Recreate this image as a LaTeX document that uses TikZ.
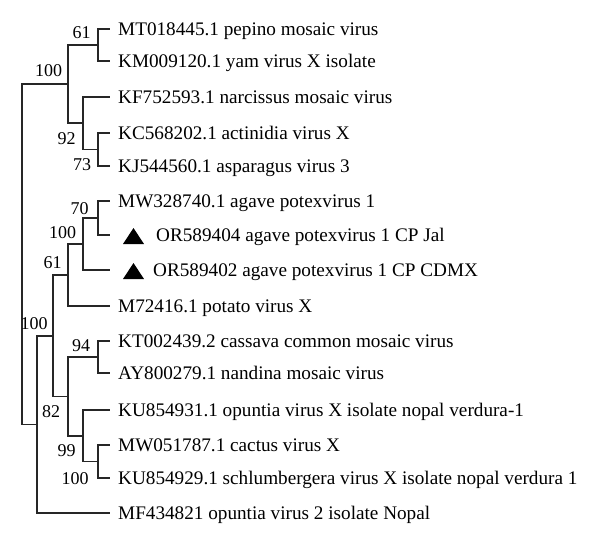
\documentclass[tikz,border=0pt]{standalone}
\usepackage{fontspec}
\setmainfont{Liberation Serif}
\begin{document}
\begin{tikzpicture}[x=1pt,y=-1pt,
  br/.style={line width=1.1pt,black!85},
  leaf/.style={anchor=base west,inner sep=0pt,font=\fontsize{19.2}{19}\selectfont},
  bs/.style={anchor=center,inner sep=0pt,font=\fontsize{18}{18}\selectfont},
  tri/.style={fill=black,draw=none}]
\useasboundingbox (0,0) rectangle (600,546);
% leaf tips
\foreach \n/\y in {1/29,2/61,3/97,4/133,5/166,6/201,7/235,8/270,9/306,10/341,11/373,12/410,13/445,14/478,15/513}
  \coordinate (L\n) at (110,\y);
% internal nodes
\coordinate (A) at (98,45);
\coordinate (B) at (98,149.5);
\coordinate (C) at (83,123);
\coordinate (D) at (68,84);
\coordinate (E) at (98,218);
\coordinate (F) at (83,244);
\coordinate (G) at (68,275);
\coordinate (H) at (98,357);
\coordinate (I) at (98,461.5);
\coordinate (J) at (83,436);
\coordinate (K) at (68,396.5);
\coordinate (Lx) at (53,336);
\coordinate (M) at (37,424.5);
\coordinate (R) at (22,254);
% branches
\draw[br] (A) |- (L1); \draw[br] (A) |- (L2);
\draw[br] (B) |- (L4); \draw[br] (B) |- (L5);
\draw[br] (C) |- (L3); \draw[br] (C) |- (B);
\draw[br] (D) |- (A); \draw[br] (D) |- (C);
\draw[br] (E) |- (L6); \draw[br] (E) |- (L7);
\draw[br] (F) |- (E); \draw[br] (F) |- (L8);
\draw[br] (G) |- (F); \draw[br] (G) |- (L9);
\draw[br] (H) |- (L10); \draw[br] (H) |- (L11);
\draw[br] (I) |- (L13); \draw[br] (I) |- (L14);
\draw[br] (J) |- (L12); \draw[br] (J) |- (I);
\draw[br] (K) |- (H); \draw[br] (K) |- (J);
\draw[br] (Lx) |- (G); \draw[br] (Lx) |- (K);
\draw[br] (M) |- (Lx); \draw[br] (M) |- (L15);
\draw[br] (R) |- (D); \draw[br] (R) |- (M);
% leaf labels
\node[leaf] (t1) at (118,35) {MT018445.1 pepino mosaic virus};
\node[leaf] (t2) at (118,67) {KM009120.1 yam virus X isolate};
\node[leaf] (t3) at (118,103) {KF752593.1 narcissus mosaic virus};
\node[leaf] (t4) at (118,139) {KC568202.1 actinidia virus X};
\node[leaf] (t5) at (118,172) {KJ544560.1 asparagus virus 3};
\node[leaf] (t6) at (118,207) {MW328740.1 agave potexvirus 1};
\node[leaf] (t7) at (156,241) {OR589404 agave potexvirus 1 CP Jal};
\node[leaf] (t8) at (153,276) {OR589402 agave potexvirus 1 CP CDMX};
\node[leaf] (t9) at (118,312) {M72416.1 potato virus X};
\node[leaf] (t10) at (118,347) {KT002439.2 cassava common mosaic virus};
\node[leaf] (t11) at (118,379) {AY800279.1 nandina mosaic virus};
\node[leaf] (t12) at (118,416) {KU854931.1 opuntia virus X isolate nopal verdura-1};
\node[leaf] (t13) at (118,451) {MW051787.1 cactus virus X};
\node[leaf] (t14) at (118,484) {KU854929.1 schlumbergera virus X isolate nopal verdura 1};
\node[leaf] (t15) at (118,519) {MF434821 opuntia virus 2 isolate Nopal};
% triangles
\fill[tri] (123,244) -- (133.5,228) -- (144,244) -- cycle;
\fill[tri] (123,279) -- (133.5,263) -- (144,279) -- cycle;
% bootstrap values
\node[bs] (b1) at (81.5,32.5) {61};
\node[bs] (b2) at (48.5,71) {100};
\node[bs] (b3) at (66.5,139) {92};
\node[bs] (b4) at (82,165) {73};
\node[bs] (b5) at (79.5,209) {70};
\node[bs] (b6) at (62.5,232.5) {100};
\node[bs] (b7) at (52.5,262.5) {61};
\node[bs] (b8) at (34,323.5) {100};
\node[bs] (b9) at (81,346) {94};
\node[bs] (b10) at (51,412) {82};
\node[bs] (b11) at (66.5,451) {99};
\node[bs] (b12) at (75,479) {100};
\end{tikzpicture}
\end{document}
